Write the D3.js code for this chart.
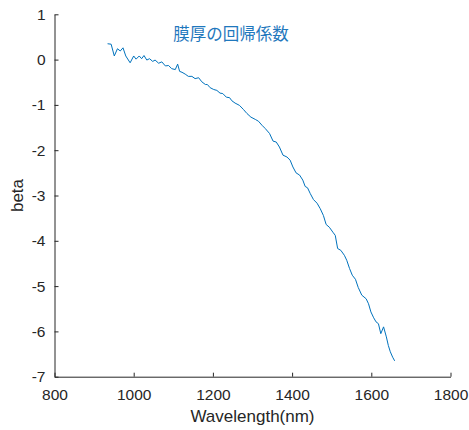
<!DOCTYPE html>
<html>
<head>
<meta charset="utf-8">
<script src="https://cdn.jsdelivr.net/npm/d3@7"></script>
<style>
    body { margin: 0; background: #fff; }
    svg { display: block; }
</style>
</head>
<body>
<div id="chart-container"></div>
<script>
// Wavelength (nm) and regression coefficient
const wavelength = [934, 943, 951, 959, 966, 973, 980, 991, 1000, 1006,
    1014, 1020, 1026, 1033, 1040, 1048, 1054, 1063, 1071, 1080,
    1088, 1096, 1105, 1111, 1116, 1122, 1130, 1138, 1147, 1155,
    1164, 1172, 1181, 1186, 1193, 1202, 1210, 1218, 1225, 1234,
    1242, 1248, 1256, 1267, 1277, 1286, 1296, 1307, 1315, 1324,
    1332, 1343, 1352, 1360, 1368, 1377, 1387, 1395, 1402, 1410,
    1419, 1427, 1433, 1439, 1446, 1454, 1463, 1471, 1479, 1486,
    1494, 1503, 1509, 1515, 1523, 1532, 1538, 1545, 1552, 1560,
    1567, 1576, 1587, 1593, 1599, 1606, 1612, 1618, 1624, 1631,
    1638, 1643, 1648, 1654, 1659];
const beta = [0.35, 0.34, 0.08, 0.24, 0.19, 0.26, 0.08, -0.07, 0.08, 0.01,
    0.08, 0.02, 0.09, -0.01, 0.02, -0.04, -0.01, -0.08, -0.05, -0.14,
    -0.13, -0.20, -0.22, -0.10, -0.26, -0.28, -0.32, -0.37, -0.37, -0.42,
    -0.40, -0.49, -0.55, -0.55, -0.62, -0.66, -0.68, -0.74, -0.75, -0.83,
    -0.84, -0.91, -0.96, -1.01, -1.10, -1.19, -1.27, -1.32, -1.36, -1.45,
    -1.52, -1.63, -1.80, -1.82, -1.93, -2.11, -2.15, -2.22, -2.37, -2.50,
    -2.55, -2.66, -2.80, -2.83, -2.96, -3.09, -3.17, -3.29, -3.44, -3.64,
    -3.70, -3.81, -3.88, -4.17, -4.21, -4.32, -4.43, -4.61, -4.76, -4.85,
    -5.03, -5.20, -5.28, -5.39, -5.57, -5.70, -5.79, -5.83, -6.05, -5.90,
    -6.12, -6.31, -6.45, -6.57, -6.65];

const xTicks = [800, 1000, 1200, 1400, 1600, 1800];
const yTicks = [1, 0, -1, -2, -3, -4, -5, -6, -7];

const titleText = "膜厚の回帰係数";
const xLabel = "Wavelength(nm)";
const yLabel = "beta";

function drawChart() {
    const width = 469, height = 430;
    const left = 54.5, right = 450.5, top = 14.3, bottom = 376.7;
    const axisColor = "#262626";
    const lineColor = "#0072BD";
    const font = "'Liberation Sans', Arial, sans-serif";

    const svg = d3.select("#chart-container").append("svg")
        .attr("width", width)
        .attr("height", height);

    const x = d3.scaleLinear().domain([800, 1800]).range([left, right]);
    const y = d3.scaleLinear().domain([-7, 1]).range([bottom, top]);

    // plain integer labels, hyphen for the minus sign like matlab
    const fmt = d => String(d);

    // bottom axis, ticks pointing inside like matlab
    const xAxis = svg.append("g")
        .attr("transform", `translate(0,${bottom})`)
        .call(d3.axisBottom(x).tickValues(xTicks).tickSize(-4).tickSizeOuter(0).tickPadding(12)
            .tickFormat(fmt));

    // left axis
    const yAxis = svg.append("g")
        .attr("transform", `translate(${left},0)`)
        .call(d3.axisLeft(y).tickValues(yTicks).tickSize(-4).tickSizeOuter(0).tickPadding(9)
            .tickFormat(fmt));

    [xAxis, yAxis].forEach(ax => {
        ax.select(".domain").attr("stroke", axisColor).attr("stroke-width", 1);
        ax.selectAll(".tick line").attr("stroke", axisColor);
        ax.selectAll(".tick text")
            .style("font-family", font)
            .style("font-size", "15.5px")
            .attr("fill", axisColor);
    });

    // the data line
    const points = wavelength.map((w, i) => [w, beta[i]]);
    svg.append("path")
        .datum(points)
        .attr("fill", "none")
        .attr("stroke", lineColor)
        .attr("stroke-width", 1)
        .attr("stroke-linejoin", "round")
        .attr("d", d3.line().x(d => x(d[0])).y(d => y(d[1])));

    // axis labels
    svg.append("text")
        .attr("x", (left + right) / 2)
        .attr("y", 422)
        .style("text-anchor", "middle")
        .style("font-family", font)
        .style("font-size", "17px")
        .style("fill", axisColor)
        .text(xLabel);

    svg.append("text")
        .attr("transform", `translate(23,${(top + bottom) / 2}) rotate(-90)`)
        .style("text-anchor", "middle")
        .style("font-family", font)
        .style("font-size", "17px")
        .style("fill", axisColor)
        .text(yLabel);

    // title text inside the plot
    svg.append("text")
        .attr("x", 231)
        .attr("y", 33)
        .attr("dominant-baseline", "central")
        .style("text-anchor", "middle")
        .style("font-family", "'Noto Sans CJK JP', sans-serif")
        .style("font-size", "16.5px")
        .style("fill", "#1f78bd")
        .text(titleText);
}

drawChart();
</script>
</body>
</html>
